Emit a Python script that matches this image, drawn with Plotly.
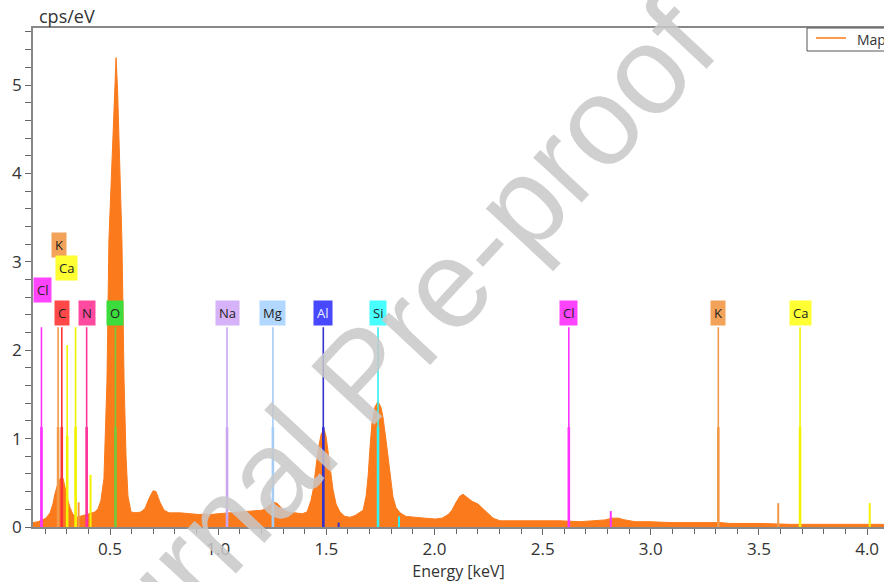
import plotly.graph_objects as go

# ---------------- data ----------------
energy_kev = [0.144, 0.167, 0.186, 0.204, 0.223, 0.236, 0.246, 0.260, 0.273, 0.283,
              0.292, 0.301, 0.315, 0.329, 0.347, 0.361, 0.380, 0.408, 0.431, 0.445,
              0.458, 0.472, 0.486, 0.495, 0.514, 0.521, 0.528, 0.535, 0.542, 0.555,
              0.565, 0.574, 0.583, 0.597, 0.620, 0.643, 0.662, 0.680, 0.699, 0.713,
              0.731, 0.750, 0.773, 0.824, 0.870, 0.916, 0.939, 0.962, 1.000, 1.046,
              1.101, 1.157, 1.203, 1.230, 1.254, 1.272, 1.295, 1.323, 1.360, 1.388,
              1.411, 1.429, 1.439, 1.453, 1.462, 1.476, 1.490, 1.499, 1.508, 1.522,
              1.531, 1.545, 1.563, 1.586, 1.610, 1.633, 1.647, 1.670, 1.684, 1.693,
              1.702, 1.711, 1.725, 1.739, 1.753, 1.762, 1.776, 1.785, 1.799, 1.808,
              1.822, 1.841, 1.868, 1.901, 1.956, 2.003, 2.035, 2.063, 2.081, 2.100,
              2.118, 2.132, 2.150, 2.174, 2.201, 2.224, 2.248, 2.271, 2.303, 2.396,
              2.488, 2.580, 2.673, 2.742, 2.788, 2.820, 2.849, 2.881, 2.927, 2.997,
              3.089, 3.181, 3.274, 3.320, 3.366, 3.505, 3.644, 3.782, 3.921, 4.078]
counts_cps = [0.05, 0.06, 0.08, 0.10, 0.16, 0.26, 0.38, 0.50, 0.56, 0.55,
              0.45, 0.34, 0.22, 0.14, 0.11, 0.12, 0.14, 0.16, 0.17, 0.21,
              0.30, 0.55, 1.66, 3.25, 4.38, 4.94, 5.31, 4.94, 4.38, 3.25,
              1.66, 0.80, 0.35, 0.17, 0.16, 0.17, 0.21, 0.32, 0.41, 0.40,
              0.28, 0.19, 0.16, 0.16, 0.15, 0.14, 0.15, 0.14, 0.15, 0.16,
              0.17, 0.18, 0.19, 0.23, 0.28, 0.27, 0.21, 0.17, 0.16, 0.15,
              0.17, 0.30, 0.42, 0.68, 0.87, 1.05, 1.10, 1.02, 0.84, 0.60,
              0.42, 0.26, 0.17, 0.12, 0.11, 0.13, 0.15, 0.19, 0.35, 0.57,
              0.90, 1.18, 1.36, 1.42, 1.35, 1.24, 0.98, 0.79, 0.50, 0.34,
              0.22, 0.16, 0.12, 0.11, 0.10, 0.09, 0.10, 0.14, 0.19, 0.28,
              0.35, 0.37, 0.34, 0.29, 0.26, 0.21, 0.15, 0.10, 0.07, 0.07,
              0.07, 0.07, 0.06, 0.07, 0.08, 0.10, 0.10, 0.08, 0.06, 0.06,
              0.05, 0.05, 0.05, 0.05, 0.04, 0.04, 0.03, 0.03, 0.03, 0.03]

# element marker lines
line_element = ["Cl", "K", "C", "Ca", "Ca", "K", "N", "Ca", "O", "Na", "Mg", "Al", "Al",
                "Si", "Si", "Cl", "Cl", "K", "K", "Ca", "Ca"]
line_energy = [0.183, 0.260, 0.277, 0.302, 0.341, 0.355, 0.392, 0.410, 0.525, 1.041, 1.253,
               1.486, 1.557, 1.739, 1.836, 2.621, 2.815, 3.312, 3.589, 3.690, 4.012]
line_height = [2.26, 2.26, 2.26, 2.06, 2.26, 0.28, 2.26, 0.59, 2.26, 2.26, 2.26,
               2.26, 0.05, 2.26, 0.12, 2.26, 0.18, 2.26, 0.27, 2.26, 0.27]

# element label boxes
label_text = ["K", "Ca", "Cl", "C", "N", "O", "Na", "Mg", "Al", "Si", "Cl", "K", "Ca"]
label_energy = [0.264, 0.301, 0.186, 0.278, 0.394, 0.525, 1.041, 1.253, 1.486, 1.739,
                2.621, 3.312, 3.690]

x_ticks = [0.5, 1.0, 1.5, 2.0, 2.5, 3.0, 3.5, 4.0]
x_tick_text = ["0.5", "1.0", "1.5", "2.0", "2.5", "3.0", "3.5", "4.0"]
y_ticks = [0, 1, 2, 3, 4, 5]

# ---------------- styles ----------------
line_colors = {"Cl": "#ff33ff", "K": "#f39a4a", "C": "#ff3333", "Ca": "#f2f200",
               "N": "#ff3399", "O": "#77c83a", "Na": "#c8a6f2", "Mg": "#a6cdf5",
               "Al": "#3333cc", "Si": "#33f0f0"}
box_colors = {"Cl": "#ff44ff", "K": "#f3a25a", "C": "#ff4848", "Ca": "#ffff33",
              "N": "#ff4aa0", "O": "#3ddc3d", "Na": "#d6b2f8", "Mg": "#b2d8ff",
              "Al": "#4848ff", "Si": "#48ffff"}
label_levels = {0: 3.19, 1: 2.93, 2: 2.68}
row_level = 2.42
FONT = "Open Sans"

fig = go.Figure()

fig.add_trace(go.Scatter(
    x=energy_kev, y=counts_cps, mode="lines", fill="tozeroy",
    line=dict(color="#fb7a1c", width=1), fillcolor="#fb7a1c",
    hoverinfo="skip", showlegend=False))

for el, e, h in zip(line_element, line_energy, line_height):
    c = line_colors[el]
    fig.add_trace(go.Scatter(x=[e, e], y=[0, h], mode="lines",
                             line=dict(color=c, width=1.6 if h > 1 else 2),
                             hoverinfo="skip", showlegend=False))
    if h > 2:
        fig.add_trace(go.Scatter(x=[e, e], y=[0, h / 2], mode="lines",
                                 line=dict(color=c, width=2.6),
                                 hoverinfo="skip", showlegend=False))

annotations = []
for i, (t, e) in enumerate(zip(label_text, label_energy)):
    lvl = label_levels.get(i, row_level)
    annotations.append(dict(
        x=e, y=lvl, xref="x", yref="y", text=t, showarrow=False,
        bgcolor=box_colors[t], borderpad=3,
        font=dict(family=FONT, size=13,
                  color="#eeeeff" if t == "Al" else "#222222"),
        xanchor="center", yanchor="middle"))

# axis title on top of y axis
annotations.append(dict(x=(37 - 33) / 851, y=(527 - 16) / 499, xref="paper", yref="paper",
                        text="cps/eV", showarrow=False, xanchor="left", yanchor="middle",
                        font=dict(family=FONT, size=18, color="#333333")))
# legend text
annotations.append(dict(x=(855 - 33) / 851, y=(527 - 39) / 499, xref="paper", yref="paper",
                        text="Map Sum Spectrum", showarrow=False, xanchor="left",
                        yanchor="middle",
                        font=dict(family=FONT, size=14, color="#333333")))
# watermark
annotations.append(dict(x=(362 - 33) / 851, y=(527 - 375) / 499, xref="paper", yref="paper",
                        text="Journal Pre-proof", showarrow=False, textangle=-47,
                        xanchor="center", yanchor="middle",
                        font=dict(family="Liberation Sans", size=125,
                                  color="rgba(200,200,200,0.85)")))

shapes = [
    dict(type="rect", xref="paper", yref="paper",
         x0=(807 - 33) / 851, x1=1.05, y0=(527 - 51) / 499, y1=1,
         line=dict(color="#555555", width=1), fillcolor="white", layer="above"),
    dict(type="line", xref="paper", yref="paper",
         x0=(816 - 33) / 851, x1=(846 - 33) / 851, y0=(527 - 38) / 499, y1=(527 - 38) / 499,
         line=dict(color="#ff9a50", width=2), layer="above"),
]

fig.update_layout(
    width=884, height=582,
    margin=dict(l=33, r=0, t=28, b=55),
    paper_bgcolor="white", plot_bgcolor="white",
    showlegend=False,
    annotations=annotations,
    shapes=shapes,
    xaxis=dict(range=[0.144, 4.078], tickvals=x_ticks, ticktext=x_tick_text,
               ticks="outside", ticklen=6, tickcolor="#666666", tickwidth=1,
               minor=dict(dtick=0.1, ticks="outside", ticklen=5, tickcolor="#666666"),
               showline=True, linecolor="#888888", linewidth=1.5, mirror=True,
               showgrid=False, zeroline=False,
               tickfont=dict(family=FONT, size=17, color="#333333"),
               title=dict(text="Energy [keV]", standoff=3,
                          font=dict(family=FONT, size=16, color="#333333"))),
    yaxis=dict(range=[0, 5.645], tickvals=y_ticks,
               ticks="outside", ticklen=6, tickcolor="#666666", tickwidth=1,
               minor=dict(dtick=0.2, ticks="outside", ticklen=6, tickcolor="#666666"),
               showline=True, linecolor="#888888", linewidth=1.5,
               showgrid=False, zeroline=False,
               tickfont=dict(family=FONT, size=17, color="#333333")),
)

fig.write_html("out.html")
